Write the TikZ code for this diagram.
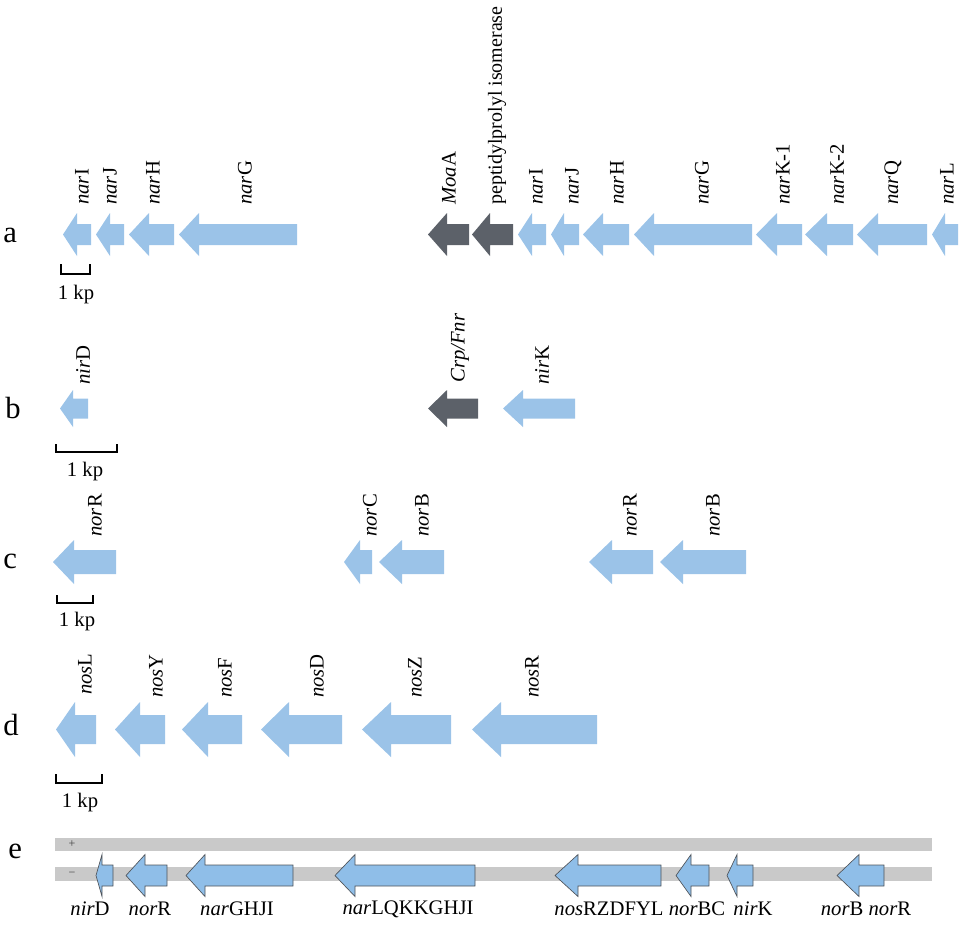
\documentclass[tikz,border=0pt]{standalone}
\usepackage{fontspec}
\setmainfont{Liberation Serif}
\definecolor{geneblue}{RGB}{155,195,232}
\definecolor{genedark}{RGB}{92,97,105}
\definecolor{eblue}{RGB}{143,190,232}
\definecolor{eline}{RGB}{80,84,90}
\definecolor{strand}{RGB}{201,201,201}
\tikzset{
  blue gene/.style={fill=geneblue,draw=none},
  dark gene/.style={fill=genedark,draw=none},
  e gene/.style={fill=eblue,draw=eline,line width=0.5pt,line join=miter},
  glabel/.style={rotate=90,anchor=west,inner sep=0pt,font=\fontsize{15.5}{18}\selectfont},
  elabel/.style={anchor=center,inner sep=0pt,font=\fontsize{15.5}{18}\selectfont},
  rowlabel/.style={anchor=base west,inner sep=0pt,font=\fontsize{23}{26}\selectfont},
  scalebar/.style={line width=1.6pt,line cap=butt,line join=miter},
  kplabel/.style={anchor=center,inner sep=0pt,font=\fontsize{15.5}{18}\selectfont},
  strandbar/.style={fill=strand,draw=none},
  strandsign/.style={anchor=center,inner sep=0pt,text=black!75,font=\fontsize{9}{10}\selectfont}
}
% #1 tip x, #2 head base x, #3 right x, #4 centre y, #5 head half-height, #6 body half-height, #7 style
\newcommand{\GeneArrow}[7]{%
  \path[#7] (#1,#4) -- (#2,{#4-#5}) -- (#2,{#4-#6}) -- (#3,{#4-#6})
    -- (#3,{#4+#6}) -- (#2,{#4+#6}) -- (#2,{#4+#5}) -- cycle;}
\begin{document}
\begin{tikzpicture}[x=0.75pt,y=-0.75pt]
\useasboundingbox (0,0) rectangle (969,926);

% ---------------- row a ----------------
\node[rowlabel] (ra) at (3,242) {a};
\GeneArrow{63}{77}{91}{234.5}{21.5}{10.5}{blue gene}
\GeneArrow{96}{110}{124}{234.5}{21.5}{10.5}{blue gene}
\GeneArrow{129}{149}{174}{234.5}{21.5}{10.5}{blue gene}
\GeneArrow{179}{199}{297}{234.5}{21.5}{10.5}{blue gene}
\node[glabel] (a1) at (82,205) {\textit{nar}I};
\node[glabel] (a2) at (110,205) {\textit{nar}J};
\node[glabel] (a3) at (153,205) {\textit{nar}H};
\node[glabel] (a4) at (245,205) {\textit{nar}G};

\GeneArrow{428}{447}{469}{234.5}{21.5}{10.5}{dark gene}
\GeneArrow{472}{490}{513}{234.5}{21.5}{10.5}{dark gene}
\GeneArrow{518}{532}{546}{234.5}{21.5}{10.5}{blue gene}
\GeneArrow{551}{564}{579}{234.5}{21.5}{10.5}{blue gene}
\GeneArrow{583}{603}{629}{234.5}{21.5}{10.5}{blue gene}
\GeneArrow{634}{654}{752}{234.5}{21.5}{10.5}{blue gene}
\GeneArrow{756}{777}{802}{234.5}{21.5}{10.5}{blue gene}
\GeneArrow{805}{827}{853}{234.5}{21.5}{10.5}{blue gene}
\GeneArrow{857}{878}{927}{234.5}{21.5}{10.5}{blue gene}
\GeneArrow{932}{945}{958}{234.5}{21.5}{10.5}{blue gene}
\node[glabel] (a5) at (449,205) {\textit{Moa}A};
\node[glabel,font=\fontsize{15}{18}\selectfont] (a6) at (497,205) {peptidylprolyl isomerase};
\node[glabel] (a7) at (536,205) {\textit{nar}I};
\node[glabel] (a8) at (572,205) {\textit{nar}J};
\node[glabel] (a9) at (617,205) {\textit{nar}H};
\node[glabel] (a10) at (702,205) {\textit{nar}G};
\node[glabel] (a11) at (783,205) {\textit{nar}K-1};
\node[glabel] (a12) at (837,205) {\textit{nar}K-2};
\node[glabel] (a13) at (893,205) {\textit{nar}Q};
\node[glabel] (a14) at (947,205) {\textit{nar}L};

\draw[scalebar] (61,264) -- (61,274) -- (90,274) -- (90,264);
\node[kplabel] (ka) at (76,295) {1 kp};

% ---------------- row b ----------------
\node[rowlabel] (rb) at (5,418) {b};
\GeneArrow{60}{73}{88}{408.5}{18.5}{10}{blue gene}
\GeneArrow{428}{447}{478}{408.5}{18.5}{10}{dark gene}
\GeneArrow{503}{523}{575}{408.5}{18.5}{10}{blue gene}
\node[glabel] (b1) at (83,385) {\textit{nir}D};
\node[glabel] (b2) at (460,383) {\textit{Crp/Fnr}};
\node[glabel] (b3) at (542,385) {\textit{nir}K};
\draw[scalebar] (56,444) -- (56,452) -- (117,452) -- (117,444);
\node[kplabel] (kb) at (85,472) {1 kp};

% ---------------- row c ----------------
\node[rowlabel] (rc) at (3,568) {c};
\GeneArrow{53}{74}{116}{562}{22}{12}{blue gene}
\GeneArrow{344}{360}{372}{562}{22}{12}{blue gene}
\GeneArrow{379}{402}{444}{562}{22}{12}{blue gene}
\GeneArrow{589}{612}{653}{562}{22}{12}{blue gene}
\GeneArrow{660}{683}{746}{562}{22}{12}{blue gene}
\node[glabel] (c1) at (95,537) {\textit{nor}R};
\node[glabel] (c2) at (370,537) {\textit{nor}C};
\node[glabel] (c3) at (422,537) {\textit{nor}B};
\node[glabel] (c4) at (630,537) {\textit{nor}R};
\node[glabel] (c5) at (713,537) {\textit{nor}B};
\draw[scalebar] (57,595) -- (57,603) -- (93,603) -- (93,595);
\node[kplabel] (kc) at (77,622) {1 kp};

% ---------------- row d ----------------
\node[rowlabel] (rd) at (3,735) {d};
\GeneArrow{56}{75}{96}{729.5}{27.5}{14.5}{blue gene}
\GeneArrow{115}{140}{165}{729.5}{27.5}{14.5}{blue gene}
\GeneArrow{182}{208}{242}{729.5}{27.5}{14.5}{blue gene}
\GeneArrow{261}{289}{342}{729.5}{27.5}{14.5}{blue gene}
\GeneArrow{362}{391}{451}{729.5}{27.5}{14.5}{blue gene}
\GeneArrow{472}{501}{597}{729.5}{27.5}{14.5}{blue gene}
\node[glabel] (d1) at (85,695) {\textit{nos}L};
\node[glabel] (d2) at (156,698) {\textit{nos}Y};
\node[glabel] (d3) at (225,698) {\textit{nos}F};
\node[glabel] (d4) at (317,698) {\textit{nos}D};
\node[glabel] (d5) at (415,698) {\textit{nos}Z};
\node[glabel] (d6) at (532,698) {\textit{nos}R};
\draw[scalebar] (56,774) -- (56,783) -- (102,783) -- (102,774);
\node[kplabel] (kd) at (80,803) {1 kp};

% ---------------- row e ----------------
\node[rowlabel] (re) at (8,858) {e};
\path[strandbar] (55,838) rectangle (932,851);
\path[strandbar] (55,867) rectangle (932,881);
\node[strandsign] (plus) at (72,844.5) {+};
\node[strandsign] (minus) at (72,874) {−};
\GeneArrow{96}{102}{113}{875.5}{21}{10.5}{e gene}
\GeneArrow{126}{145}{167}{875.5}{21}{10.5}{e gene}
\GeneArrow{186}{205}{293}{875.5}{21}{10.5}{e gene}
\GeneArrow{335}{355}{475}{875.5}{21}{10.5}{e gene}
\GeneArrow{555}{578}{661}{875.5}{21}{10.5}{e gene}
\GeneArrow{676}{691}{709}{875.5}{21}{10.5}{e gene}
\GeneArrow{727}{737}{753}{875.5}{21}{10.5}{e gene}
\GeneArrow{837}{859}{884}{875.5}{21}{10.5}{e gene}
\node[elabel] (e1) at (90,909) {\textit{nir}D};
\node[elabel] (e2) at (150,909) {\textit{nor}R};
\node[elabel] (e3) at (237,909) {\textit{nar}GHJI};
\node[elabel] (e4) at (408,909) {\textit{nar}LQKKGHJI};
\node[elabel] (e5) at (609,909) {\textit{nos}RZDFYL};
\node[elabel] (e6) at (697,909) {\textit{nor}BC};
\node[elabel] (e7) at (753,909) {\textit{nir}K};
\node[elabel] (e8) at (866,909) {\textit{nor}B \textit{nor}R};
\end{tikzpicture}
\end{document}
